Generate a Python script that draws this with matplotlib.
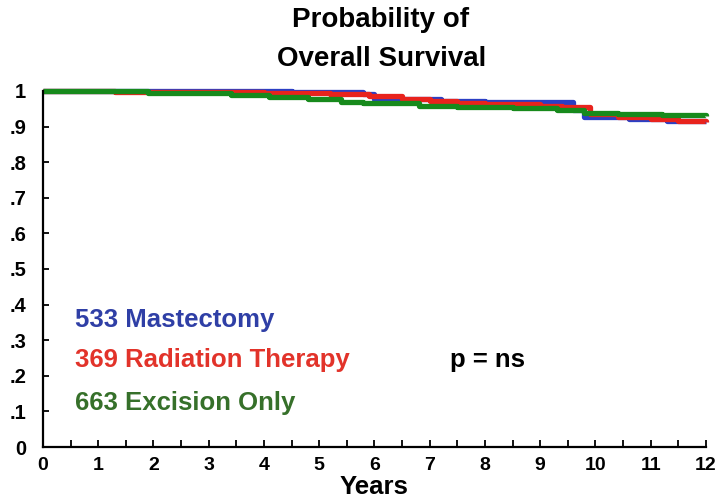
import matplotlib
matplotlib.use("Agg")
import matplotlib.pyplot as plt
from matplotlib.ticker import MultipleLocator, FixedLocator

# step points (years, survival)
mast_t = [0, 4.5, 5.8, 6.0, 7.2, 8.0, 9.6, 9.8, 10.6, 11.3, 12]
mast_s = [1.0, 0.997, 0.99, 0.978, 0.972, 0.968, 0.945, 0.926, 0.92, 0.916, 0.915]

rad_t = [0, 1.3, 4.0, 5.2, 5.9, 6.5, 7.0, 7.5, 8.0, 9.0, 9.4, 9.9, 10.4, 11.0, 11.5, 12]
rad_s = [1.0, 0.998, 0.993, 0.99, 0.985, 0.978, 0.972, 0.965, 0.962, 0.958, 0.955, 0.935, 0.928, 0.92, 0.916, 0.914]

exc_t = [0, 1.9, 3.4, 4.1, 4.8, 5.4, 5.8, 6.8, 7.5, 8.5, 9.3, 9.8, 10.4, 11.2, 12]
exc_s = [1.0, 0.993, 0.989, 0.983, 0.977, 0.97, 0.965, 0.958, 0.955, 0.952, 0.945, 0.938, 0.935, 0.932, 0.93]

groups = ["533 Mastectomy", "369 Radiation Therapy", "663 Excision Only"]
line_colors = ["#2b3fc4", "#e8231d", "#178a1c"]
text_colors = ["#2f3fa6", "#e2332a", "#36702a"]

x_ticks = list(range(0, 13))
y_ticks = [0, 0.1, 0.2, 0.3, 0.4, 0.5, 0.6, 0.7, 0.8, 0.9, 1.0]
y_labels = ["0", ".1", ".2", ".3", ".4", ".5", ".6", ".7", ".8", ".9", "1"]

plt.rcParams["font.family"] = ["Liberation Sans", "DejaVu Sans"]
plt.rcParams["font.weight"] = "bold"

fig = plt.figure(figsize=(7.16, 5.03), dpi=100)
ax = fig.add_axes([0.060, 0.1113, 0.926, 0.708])

for t, s, c in zip([mast_t, rad_t, exc_t], [mast_s, rad_s, exc_s], line_colors):
    ax.step(t, s, where="post", color=c, linewidth=3.8, clip_on=False,
            solid_capstyle="butt")

ax.set_xlim(0, 12)
ax.set_ylim(0, 1)

ax.xaxis.set_major_locator(FixedLocator(x_ticks))
ax.xaxis.set_minor_locator(MultipleLocator(0.5))
ax.set_yticks(y_ticks)
ax.set_yticklabels(y_labels)
ax.tick_params(axis="x", which="both", direction="in", length=5, width=1.3,
               labelsize=14, pad=7)
ax.tick_params(axis="y", direction="in", length=4, width=1.3,
               labelsize=14.5, pad=12)
for lab in ax.get_xticklabels() + ax.get_yticklabels():
    lab.set_fontweight("bold")

for side in ["top", "right"]:
    ax.spines[side].set_visible(False)
for side in ["left", "bottom"]:
    ax.spines[side].set_linewidth(1.6)
    ax.spines[side].set_color("black")

ax.set_xlabel("Years", fontsize=18.5, fontweight="bold", labelpad=1)

# group labels
label_y = [0.357, 0.244, 0.124]
for g, c, y in zip(groups, text_colors, label_y):
    ax.text(0.58, y, g, color=c, fontsize=18.5, fontweight="bold", va="center")
ax.text(7.37, 0.244, "p = ns", color="black", fontsize=18.5, fontweight="bold",
        va="center")

fig.text(0.531, 0.960, "Probability of", ha="center", va="center",
         fontsize=20, fontweight="bold")
fig.text(0.533, 0.883, "Overall Survival", ha="center", va="center",
         fontsize=20, fontweight="bold")

fig.savefig("out.png", dpi=100)
